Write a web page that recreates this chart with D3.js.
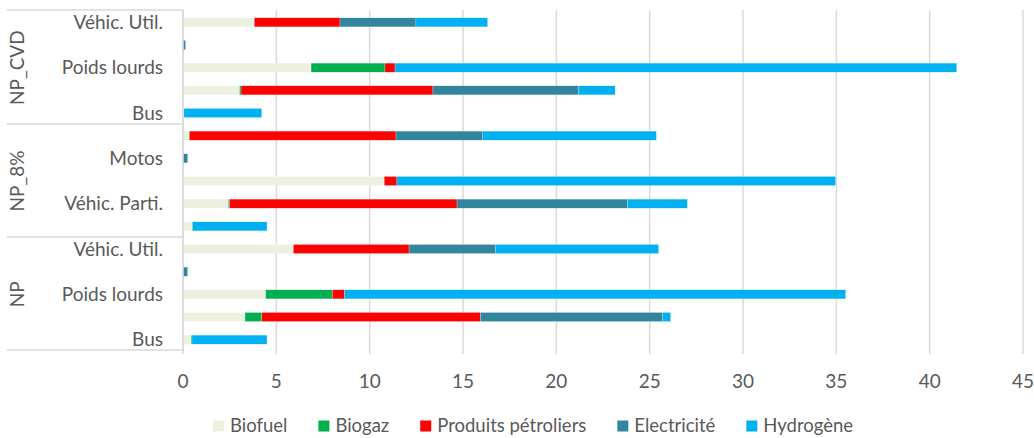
<!DOCTYPE html>
<html>
<head>
<meta charset="utf-8">
<script src="https://cdn.jsdelivr.net/npm/d3@7"></script>
<style>
  html, body { margin: 0; padding: 0; background: #fff; }
  svg { display: block; }
  text { font-family: Lato, "Open Sans", sans-serif; fill: #595959; }
</style>
</head>
<body>
<svg id="chart" width="1034" height="438"></svg>
<script>
// ---- Data ----
const groups = ["NP_CVD", "NP_8%", "NP"];
const categories = ["Véhic. Util.", "Motos", "Poids lourds", "Véhic. Parti.", "Bus"];
const seriesNames = ["Biofuel", "Biogaz", "Produits pétroliers", "Electricité", "Hydrogène"];
const seriesColors = ["#EBF1DE", "#00B050", "#FF0000", "#31859C", "#00B0F0"];
// values per row: NP_CVD (5 cats), NP_8% (5 cats), NP (5 cats)
const biofuel  = [3.82, 0, 6.86, 3.03, 0.05,   0.34, 0, 10.78, 2.43, 0.48,   5.91, 0, 4.43, 3.32, 0.43];
const biogaz   = [0, 0, 3.96, 0.08, 0,          0, 0, 0, 0.06, 0.04,          0, 0, 3.57, 0.90, 0.05];
const petrole  = [4.59, 0, 0.54, 10.28, 0,      11.07, 0, 0.68, 12.19, 0,     6.20, 0, 0.66, 11.71, 0];
const electric = [4.07, 0.14, 0, 7.79, 0,       4.62, 0.25, 0, 9.13, 0,       4.62, 0.25, 0, 9.76, 0];
const hydrogen = [3.84, 0, 30.09, 1.97, 4.17,   9.33, 0, 23.50, 3.21, 3.98,   8.75, 0, 26.84, 0.43, 4.02];
const xTicks = [0, 5, 10, 15, 20, 25, 30, 35, 40, 45];

// ---- Build rows ----
const rows = [];
groups.forEach((g, gi) => categories.forEach((c, ci) => {
  const i = gi * categories.length + ci;
  rows.push({ id: i, group: g, cat: c,
    "Biofuel": biofuel[i], "Biogaz": biogaz[i], "Produits pétroliers": petrole[i],
    "Electricité": electric[i], "Hydrogène": hydrogen[i] });
}));

const svg = d3.select("#chart");
const plotLeft = 183, plotRight = 1023, plotTop = 10, plotBottom = 350;

const x = d3.scaleLinear().domain([0, 45]).range([plotLeft, plotRight]);
const y = d3.scaleBand().domain(rows.map(r => r.id)).range([plotTop + 1, plotBottom + 1])
  .paddingInner(0.6).paddingOuter(0.3);
const color = d3.scaleOrdinal().domain(seriesNames).range(seriesColors);

// gridlines
svg.append("g").selectAll("line").data(xTicks).join("line")
  .attr("x1", d => x(d)).attr("x2", d => x(d))
  .attr("y1", plotTop).attr("y2", plotBottom + 4)
  .attr("stroke", "#D9D9D9").attr("stroke-width", 1.5);

// tick labels
svg.append("g").selectAll("text").data(xTicks).join("text")
  .attr("x", d => x(d)).attr("y", 388)
  .attr("text-anchor", "middle").attr("font-size", 19)
  .text(d => d);

// stacked bars
const stack = d3.stack().keys(seriesNames);
const stacked = stack(rows);
svg.append("g").selectAll("g").data(stacked).join("g")
  .attr("fill", d => color(d.key))
  .selectAll("rect").data(d => d.filter(s => s[1] - s[0] > 0)).join("rect")
  .attr("x", d => x(d[0]))
  .attr("width", d => x(d[1]) - x(d[0]))
  .attr("y", d => y(d.data.id))
  .attr("height", y.bandwidth())
  .attr("stroke", "#fff").attr("stroke-width", 0.4).attr("stroke-opacity", 0.6);

// category axis line
svg.append("line")
  .attr("x1", plotLeft).attr("x2", plotLeft)
  .attr("y1", plotTop).attr("y2", plotBottom)
  .attr("stroke", "#D9D9D9").attr("stroke-width", 1.5);

// group separators
svg.append("g").selectAll("line").data([plotTop, 124, 237, plotBottom]).join("line")
  .attr("x1", 7).attr("x2", plotLeft)
  .attr("y1", d => d).attr("y2", d => d)
  .attr("stroke", "#D9D9D9").attr("stroke-width", 1.5);

// category labels (every other one, as in reference)
svg.append("g").selectAll("text").data(rows.filter(r => r.id % 2 === 0)).join("text")
  .attr("x", 163)
  .attr("y", d => y(d.id) + y.bandwidth() / 2)
  .attr("dy", "0.35em")
  .attr("text-anchor", "end").attr("font-size", 19)
  .text(d => d.cat);

// group labels (rotated)
svg.append("g").selectAll("text").data(groups).join("text")
  .attr("transform", (g, gi) => {
    const first = gi * categories.length, last = first + categories.length - 1;
    const cy = (y(first) + y(last) + y.bandwidth()) / 2;
    return `translate(17,${cy}) rotate(-90)`;
  })
  .attr("dy", "0.35em")
  .attr("text-anchor", "middle").attr("font-size", 19)
  .text(d => d);

// legend
const legend = svg.append("g");
const items = legend.selectAll("g").data(seriesNames).join("g");
items.append("rect").attr("width", 11).attr("height", 11).attr("y", -5.5)
  .attr("fill", d => color(d));
items.append("text").attr("x", 17).attr("dy", "0.35em").attr("font-size", 18.5).text(d => d);
let cx = 0;
const gap = 31;
items.each(function() {
  const w = d3.select(this).select("text").node().getComputedTextLength() + 17;
  d3.select(this).attr("transform", `translate(${cx},0)`);
  cx += w + gap;
});
const totalW = cx - gap;
legend.attr("transform", `translate(${533 - totalW / 2},426)`);
</script>
</body>
</html>
